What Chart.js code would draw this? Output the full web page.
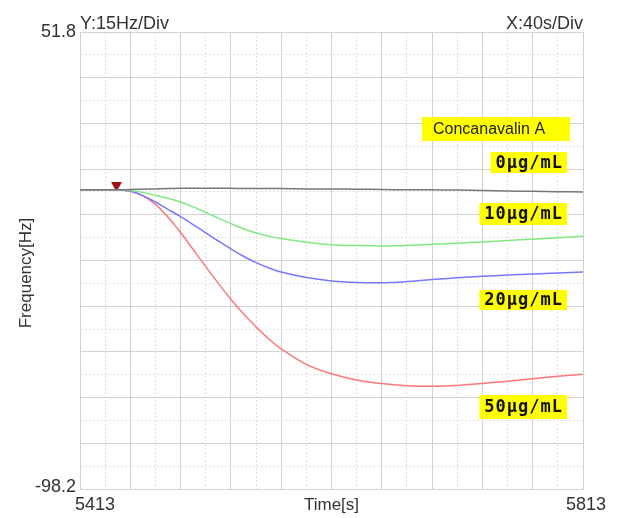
<!DOCTYPE html>
<html>
<head>
<meta charset="utf-8">
<script src="https://cdn.jsdelivr.net/npm/chart.js@4"></script>
<style>
  html, body { margin: 0; padding: 0; background: #fff; }
  #wrap { width: 618px; height: 518px; }
</style>
</head>
<body>
<div id="wrap"><canvas id="freqChart" width="618" height="518"></canvas></div>
<script>
// time axis [s] and frequency shift [Hz] for each concentration
const timeSec = [5413, 5423, 5433, 5443, 5453, 5463, 5473, 5483, 5493, 5503, 5513, 5523, 5533, 5543, 5553, 5563, 5573,
                 5593, 5613, 5633, 5653, 5673, 5693, 5713, 5733, 5753, 5773, 5793, 5813];
const conc0 = [0, 0, 0, 0, 0.1, 0.2, 0.3, 0.4, 0.5, 0.5, 0.5, 0.5, 0.5, 0.4, 0.4, 0.4, 0.4,
               0.3, 0.3, 0.2, 0.1, 0, 0, -0.1, -0.2, -0.4, -0.5, -0.6, -0.7];
const conc10 = [0, 0, 0, 0, -0.2, -0.9, -1.8, -2.8, -4.0, -5.6, -7.4, -9.3, -11.1, -12.8, -14.2, -15.2, -16.0,
                -17.2, -18.0, -18.3, -18.4, -18.3, -17.9, -17.5, -17.1, -16.6, -16.2, -15.7, -15.2];
const conc20 = [0, 0, 0, 0, -0.4, -1.9, -4.0, -6.4, -8.8, -11.4, -14.1, -16.8, -19.4, -21.8, -23.9, -25.6, -27.0,
                -28.8, -29.9, -30.4, -30.5, -30.1, -29.4, -28.9, -28.4, -28.0, -27.6, -27.3, -27.0];
const conc50 = [0, 0, 0, 0, -0.5, -2.0, -4.8, -9.0, -14.0, -19.6, -25.2, -30.7, -35.9, -40.7, -45.0, -48.9, -52.2,
                -57.3, -60.4, -62.4, -63.6, -64.3, -64.5, -64.2, -63.6, -62.8, -62.0, -61.2, -60.5];

// injection marker
const markerTime = [5442];
const markerValue = [1.5];

// axis range / labels
const xMin = 5413, xMax = 5813;
const yMin = -98.2, yMax = 51.8;
const xTickLabels = ['5413', '5813'];
const yTickLabels = ['51.8', '-98.2'];
const seriesNames = ['0\u03bcg/mL', '10\u03bcg/mL', '20\u03bcg/mL', '50\u03bcg/mL'];

function toPoints(xs, ys) {
    return xs.map((x, i) => ({ x: x, y: ys[i] }));
}

function lineSet(label, values, color) {
    return {
        label: label,
        data: toPoints(timeSec, values),
        borderColor: color,
        borderWidth: 1.5,
        pointRadius: 0,
        tension: 0.4,
        fill: false
    };
}

const majorColor = '#d2d2d2';
const minorColor = '#e0e0e0';

// grid helpers: every second line is a dashed minor line
function isMajor(value, min, step) {
    return Math.round((value - min) / step) % 2 === 0;
}

// labels, header texts and yellow legend boxes
const annotationPlugin = {
    id: 'annotations',
    afterDraw(chart) {
        const c = chart.ctx;
        const area = chart.chartArea;
        const xs = chart.scales.x;
        const ys = chart.scales.y;
        c.save();
        c.fillStyle = '#333';
        c.textBaseline = 'middle';

        // tick labels
        c.font = '18px "Liberation Sans", Arial, sans-serif';
        c.textAlign = 'right';
        c.fillText(yTickLabels[0], area.left - 4, ys.getPixelForValue(yMax));
        c.fillText(yTickLabels[1], area.left - 4, ys.getPixelForValue(yMin) - 2);
        c.textAlign = 'center';
        c.fillText(xTickLabels[0], xs.getPixelForValue(xMin) + 15, area.bottom + 16);
        c.fillText(xTickLabels[1], xs.getPixelForValue(xMax) + 3, area.bottom + 16);

        // header texts
        c.textBaseline = 'alphabetic';
        c.textAlign = 'left';
        c.fillText('Y:15Hz/Div', area.left, area.top - 3);
        c.textAlign = 'right';
        c.fillText('X:40s/Div', area.right, area.top - 3);

        // axis titles
        c.font = '17px "Liberation Sans", Arial, sans-serif';
        c.textAlign = 'center';
        c.textBaseline = 'middle';
        c.fillText('Time[s]', (area.left + area.right) / 2, area.bottom + 16);
        c.save();
        c.translate(26, 273);
        c.rotate(-Math.PI / 2);
        c.fillText('Frequency[Hz]', 0, 0);
        c.restore();

        // legend boxes
        c.fillStyle = '#ffff00';
        c.fillRect(422, 117, 148, 24);
        c.fillStyle = '#222';
        c.font = '16px "Liberation Sans", Arial, sans-serif';
        c.textAlign = 'left';
        c.fillText('Concanavalin A', 433, 130);

        const boxes = [[152, 173], [203, 225], [290, 310], [395, 419]];
        c.font = 'bold 17px "DejaVu Sans Mono", monospace';
        c.letterSpacing = '1px';
        boxes.forEach((b, i) => {
            const w = c.measureText(seriesNames[i]).width + 9;
            c.fillStyle = '#ffff00';
            c.fillRect(567 - w, b[0], w, b[1] - b[0]);
            c.fillStyle = '#111';
            c.textAlign = 'right';
            c.fillText(seriesNames[i], 563, (b[0] + b[1]) / 2 + 1);
        });
        c.restore();
    }
};

const ctx = document.getElementById('freqChart').getContext('2d');
const freqChart = new Chart(ctx, {
    type: 'line',
    data: {
        datasets: [
            lineSet(seriesNames[0], conc0, '#777777'),
            lineSet(seriesNames[1], conc10, '#80ea80'),
            lineSet(seriesNames[2], conc20, '#7878ff'),
            lineSet(seriesNames[3], conc50, '#ff7878'),
            {
                label: 'marker',
                data: toPoints(markerTime, markerValue),
                showLine: false,
                pointStyle: 'triangle',
                rotation: 180,
                pointRadius: 5.5,
                backgroundColor: '#a01010',
                borderColor: '#a01010',
                borderWidth: 1
            }
        ]
    },
    options: {
        responsive: false,
        animation: false,
        layout: { padding: { left: 80, top: 32, right: 35, bottom: 29 } },
        plugins: {
            legend: { display: false },
            tooltip: { enabled: false }
        },
        scales: {
            x: {
                type: 'linear',
                min: xMin,
                max: xMax,
                ticks: { display: false, stepSize: 20 },
                grid: {
                    drawTicks: false,
                    color: c => (c.tick && !isMajor(c.tick.value, xMin, 20)) ? minorColor : majorColor
                },
                border: {
                    color: majorColor,
                    dash: c => (c.tick && !isMajor(c.tick.value, xMin, 20)) ? [2, 2] : []
                }
            },
            y: {
                min: yMin,
                max: yMax,
                ticks: { display: false, stepSize: 7.5 },
                grid: {
                    drawTicks: false,
                    color: c => (c.tick && !isMajor(c.tick.value, yMin, 7.5)) ? minorColor : majorColor
                },
                border: {
                    color: majorColor,
                    dash: c => (c.tick && !isMajor(c.tick.value, yMin, 7.5)) ? [2, 2] : []
                }
            }
        }
    },
    plugins: [annotationPlugin]
});
</script>
</body>
</html>
